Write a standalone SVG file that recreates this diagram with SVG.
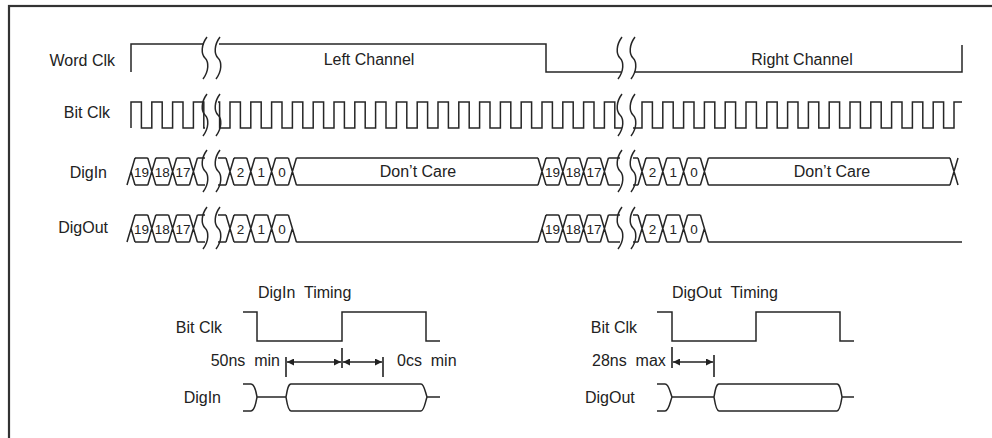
<svg xmlns="http://www.w3.org/2000/svg" xmlns:xlink="http://www.w3.org/1999/xlink" width="992" height="438" viewBox="0 0 992 438">
<style>
text{font-family:"Liberation Sans",Arial,sans-serif;fill:#222;font-size:16px}
.lbl{text-anchor:end}
.num{font-size:13.5px;text-anchor:middle}
.mid{text-anchor:middle}
.w{fill:none;stroke:#262626;stroke-width:1.5;stroke-linejoin:miter}
.sq{fill:none;stroke:#262626;stroke-width:1.5}
.ar{fill:none;stroke:#222;stroke-width:1.6}
</style>
<defs>
<path id="sq" d="M2,0 C-4,8 -4,17 0,21 C4,25 4,34 -2,42"/>
<marker id="ah" viewBox="0 0 10 10" refX="10" refY="5" markerWidth="9" markerHeight="7" markerUnits="userSpaceOnUse" orient="auto-start-reverse">
<path d="M0,0 L10,5 L0,10 Z" fill="#222"/>
</marker>
</defs>
<rect x="9" y="6" width="1000" height="500" fill="#fff" stroke="#333" stroke-width="2.2"/>

<g id="wordclk">
<text class="lbl" x="115" y="66">Word Clk</text>
<path class="w" d="M131,72 V44 H204 M219,44 H546 V72 H621 M634,72 H962 V45"/>
<use href="#sq" x="205" y="37" class="sq"/>
<use href="#sq" x="218" y="37" class="sq"/>
<use href="#sq" x="620" y="37" class="sq"/>
<use href="#sq" x="633" y="37" class="sq"/>
<text class="mid" x="369" y="65">Left Channel</text>
<text class="mid" x="802" y="65">Right Channel</text>
</g>

<g id="bitclk">
<text class="lbl" x="110" y="118">Bit Clk</text>
<path class="w" d="M131,128 V102 H141.4 V128 H151.8 V102 H162.2 V128 H172.6 V102 H183 V128 H193.4 V102 H203.8 V128 H205"/>
<path class="w" d="M218,102 H219.6 V128 H230 V102 h10.4v26h10.4v-26 h10.4v26h10.4v-26 h10.4v26h10.4v-26 h10.4v26h10.4v-26 h10.4v26h10.4v-26 h10.4v26h10.4v-26 h10.4v26h10.4v-26 h10.4v26h10.4v-26 h10.4v26h10.4v-26 h10.4v26h10.4v-26 h10.4v26h10.4v-26 h10.4v26h10.4v-26 h10.4v26h10.4v-26 h10.4v26h10.4v-26 h10.4v26h10.4v-26 h10.4v26h10.4v-26 h10.4v26h10.4v-26 h10.4v26h10.4v-26 h10.4v26 H622"/>
<path class="w" d="M633,128 H642 V102 h10.4v26h10.4v-26 h10.4v26h10.4v-26 h10.4v26h10.4v-26 h10.4v26h10.4v-26 h10.4v26h10.4v-26 h10.4v26h10.4v-26 h10.4v26h10.4v-26 h10.4v26h10.4v-26 h10.4v26h10.4v-26 h10.4v26h10.4v-26 h10.4v26h10.4v-26 h10.4v26h10.4v-26 h10.4v26h10.4v-26 h10.4v26h10.4v-26 h10.4v26h10.4v-26 H962"/>
<use href="#sq" x="205" y="94" class="sq"/>
<use href="#sq" x="218" y="94" class="sq"/>
<use href="#sq" x="620" y="94" class="sq"/>
<use href="#sq" x="633" y="94" class="sq"/>
</g>

<g id="digin">
<text class="lbl" x="107" y="178">DigIn</text>
<path class="w" d="M127,185 L135,158 M131,171.5 L135,185
M135,158 H147.8 M135,185 H147.8 M147.8,158 L155.8,185 M147.8,185 L155.8,158
M155.8,158 H168.6 M155.8,185 H168.6 M168.6,158 L176.6,185 M168.6,185 L176.6,158
M176.6,158 H189.4 M176.6,185 H189.4 M189.4,158 L197.4,185 M189.4,185 L197.4,158
M197.4,158 H205 M197.4,185 H205
M218,158 H226 M218,185 H226 M226,158 L234,185 M226,185 L234,158
M234,158 H246.8 M234,185 H246.8 M246.8,158 L254.8,185 M246.8,185 L254.8,158
M254.8,158 H267.6 M254.8,185 H267.6 M267.6,158 L275.6,185 M267.6,185 L275.6,158
M275.6,158 H288.4 M275.6,185 H288.4 M288.4,158 L296.4,185 M288.4,185 L296.4,158
M296.4,158 H538 M296.4,185 H538 M538,158 L546,185 M538,185 L546,158
M546,158 H558.8 M546,185 H558.8 M558.8,158 L566.8,185 M558.8,185 L566.8,158
M566.8,158 H579.6 M566.8,185 H579.6 M579.6,158 L587.6,185 M579.6,185 L587.6,158
M587.6,158 H600.4 M587.6,185 H600.4 M600.4,158 L608.4,185 M600.4,185 L608.4,158
M608.4,158 H620 M608.4,185 H620
M633,158 H638 M633,185 H638 M638,158 L646,185 M638,185 L646,158
M646,158 H658.8 M646,185 H658.8 M658.8,158 L666.8,185 M658.8,185 L666.8,158
M666.8,158 H679.6 M666.8,185 H679.6 M679.6,158 L687.6,185 M679.6,185 L687.6,158
M687.6,158 H700.4 M687.6,185 H700.4 M700.4,158 L708.4,185 M700.4,185 L708.4,158
M708.4,158 H950 M708.4,185 H950 M950,158 L958,185 M950,185 L958,158"/>
<use href="#sq" x="205" y="150" class="sq"/>
<use href="#sq" x="218" y="150" class="sq"/>
<use href="#sq" x="620" y="150" class="sq"/>
<use href="#sq" x="633" y="150" class="sq"/>
<text class="num" x="141.4" y="176.5">19</text>
<text class="num" x="162.2" y="176.5">18</text>
<text class="num" x="183" y="176.5">17</text>
<text class="num" x="240.4" y="176.5">2</text>
<text class="num" x="261.2" y="176.5">1</text>
<text class="num" x="282" y="176.5">0</text>
<text class="mid" x="418" y="177">Don’t Care</text>
<text class="num" x="552.4" y="176.5">19</text>
<text class="num" x="573.2" y="176.5">18</text>
<text class="num" x="594" y="176.5">17</text>
<text class="num" x="652.4" y="176.5">2</text>
<text class="num" x="673.2" y="176.5">1</text>
<text class="num" x="694" y="176.5">0</text>
<text class="mid" x="832" y="177">Don’t Care</text>
</g>

<g id="digout">
<text class="lbl" x="108" y="233">DigOut</text>
<path class="w" d="M127,242 L135,215 M131,228.5 L135,242
M135,215 H147.8 M135,242 H147.8 M147.8,215 L155.8,242 M147.8,242 L155.8,215
M155.8,215 H168.6 M155.8,242 H168.6 M168.6,215 L176.6,242 M168.6,242 L176.6,215
M176.6,215 H189.4 M176.6,242 H189.4 M189.4,215 L197.4,242 M189.4,242 L197.4,215
M197.4,215 H205 M197.4,242 H205
M218,215 H226 M218,242 H226 M226,215 L234,242 M226,242 L234,215
M234,215 H246.8 M234,242 H246.8 M246.8,215 L254.8,242 M246.8,242 L254.8,215
M254.8,215 H267.6 M254.8,242 H267.6 M267.6,215 L275.6,242 M267.6,242 L275.6,215
M275.6,215 H288.4 M275.6,242 H288.4 M288.4,215 L296.4,242 M288.4,242 L292.4,228.5
M296.4,242 H538 M538,242 L546,215 M542,228.5 L546,242
M546,215 H558.8 M546,242 H558.8 M558.8,215 L566.8,242 M558.8,242 L566.8,215
M566.8,215 H579.6 M566.8,242 H579.6 M579.6,215 L587.6,242 M579.6,242 L587.6,215
M587.6,215 H600.4 M587.6,242 H600.4 M600.4,215 L608.4,242 M600.4,242 L608.4,215
M608.4,215 H620 M608.4,242 H620
M633,215 H638 M633,242 H638 M638,215 L646,242 M638,242 L646,215
M646,215 H658.8 M646,242 H658.8 M658.8,215 L666.8,242 M658.8,242 L666.8,215
M666.8,215 H679.6 M666.8,242 H679.6 M679.6,215 L687.6,242 M679.6,242 L687.6,215
M687.6,215 H700.4 M687.6,242 H700.4 M700.4,215 L708.4,242 M700.4,242 L704.4,228.5
M708.4,242 H962"/>
<use href="#sq" x="205" y="207" class="sq"/>
<use href="#sq" x="218" y="207" class="sq"/>
<use href="#sq" x="620" y="207" class="sq"/>
<use href="#sq" x="633" y="207" class="sq"/>
<text class="num" x="141.4" y="233.5">19</text>
<text class="num" x="162.2" y="233.5">18</text>
<text class="num" x="183" y="233.5">17</text>
<text class="num" x="240.4" y="233.5">2</text>
<text class="num" x="261.2" y="233.5">1</text>
<text class="num" x="282" y="233.5">0</text>
<text class="num" x="552.4" y="233.5">19</text>
<text class="num" x="573.2" y="233.5">18</text>
<text class="num" x="594" y="233.5">17</text>
<text class="num" x="652.4" y="233.5">2</text>
<text class="num" x="673.2" y="233.5">1</text>
<text class="num" x="694" y="233.5">0</text>
</g>

<g id="digin-timing">
<text x="258" y="298" xml:space="preserve">DigIn  Timing</text>
<text class="lbl" x="222" y="333">Bit Clk</text>
<path class="w" d="M243,312 H257 V341 H342 V312 H426 V341 H440"/>
<text class="lbl" x="280" y="366" xml:space="preserve">50ns  min</text>
<text x="397" y="366" xml:space="preserve">0cs  min</text>
<text class="lbl" x="221" y="403">DigIn</text>
<path class="w" d="M243,384 H251 C255,384 256,392 257,397 C256,402 255,411 251,411 H243 M257,397 H286 M286,397 C287,391 288,384 291,384 H421 C424,384 425,391 427,397 C425,403 424,411 421,411 H291 C288,411 287,403 286,397 Z M427,397 H440"/>
</g>

<g id="digout-timing">
<text x="672" y="298" xml:space="preserve">DigOut  Timing</text>
<text class="lbl" x="637" y="333">Bit Clk</text>
<path class="w" d="M657,312 H672 V341 H756 V312 H840 V341 H854"/>
<text x="592" y="366" xml:space="preserve">28ns  max</text>
<text x="585" y="403">DigOut</text>
<path class="w" d="M657,384 H665 C669,384 670,392 672,397 C670,402 669,411 665,411 H657 M672,397 H714 M714,397 C715,391 716,384 719,384 H837 C840,384 841,391 842,397 C841,403 840,411 837,411 H719 C716,411 715,403 714,397 Z M842,397 H854"/>
</g>

<g id="connectors">
<path class="ar" d="M286,357 V377 M342,348 V368 M383,357 V377 M672,347 V368 M714,355 V377"/>
<path class="ar" d="M287,362 H341" marker-start="url(#ah)" marker-end="url(#ah)"/>
<path class="ar" d="M343,362 H382" marker-start="url(#ah)" marker-end="url(#ah)"/>
<path class="ar" d="M673,362 H713" marker-start="url(#ah)" marker-end="url(#ah)"/>
</g>
</svg>
